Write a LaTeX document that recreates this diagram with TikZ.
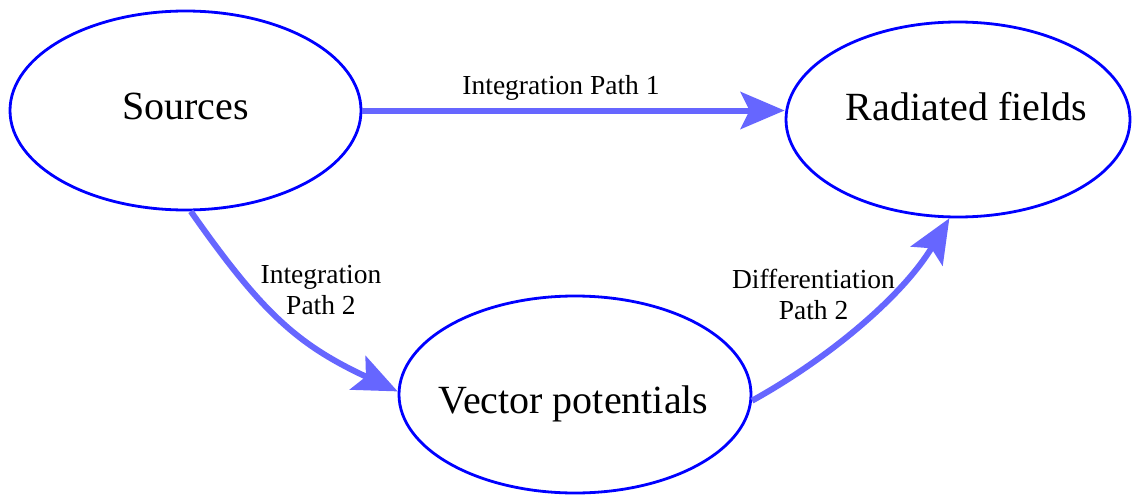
\documentclass[tikz,border=0pt]{standalone}
\usepackage{fontspec}
\setmainfont{Liberation Serif}
\usetikzlibrary{shapes.geometric,arrows.meta}
\definecolor{nodeblue}{HTML}{0000FF}
\definecolor{arrowblue}{HTML}{6666FF}
\begin{document}
\begin{tikzpicture}[x=1pt,y=-1pt,
  ell/.style={ellipse, draw=nodeblue, line width=2.8pt, inner sep=0pt},
  bigtext/.style={font=\fontsize{40}{48}\selectfont},
  lbl/.style={font=\fontsize{27.5}{31}\selectfont, align=center, inner sep=0pt},
  arr/.style={draw=arrowblue, line width=6pt, -{Stealth[length=44pt,width=37pt,inset=9pt]}}]
\useasboundingbox (0,0) rectangle (1132,495);
\node[ell, minimum width=351pt, minimum height=199pt,
  label={[bigtext, yshift=3.8pt]center:Sources}] (src) at (185.5,110.5) {};
\node[ell, minimum width=344pt, minimum height=195pt,
  label={[bigtext, xshift=8.5pt, yshift=12.9pt]center:Radiated fields}] (rad) at (958,119.5) {};
\node[ell, minimum width=352pt, minimum height=197pt,
  label={[bigtext, xshift=-1.5pt, yshift=-9.2pt]center:Vector potentials}] (vec) at (575,394.5) {};
\draw[arr] (src.east) -- (src.east -| rad.west);
\draw[arr] (src.-87) .. controls +(-55:125pt) and +(155:110pt) .. (vec.179);
\draw[arr] (vec.-2) .. controls +(29:90pt) and +(-121:90pt) .. (rad.-95);
\node[lbl] (l1) at (561,88) {Integration Path 1};
\node[lbl] (l2) at (321,290) {Integration\\Path 2};
\node[lbl] (l3) at (813.5,294.5) {Differentiation\\Path 2};
\end{tikzpicture}
\end{document}
